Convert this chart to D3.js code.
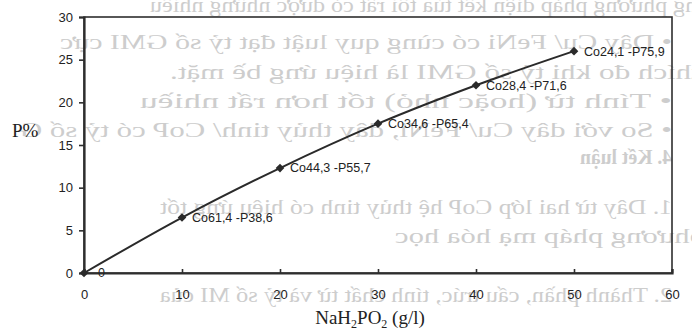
<!DOCTYPE html>
<html>
<head>
<meta charset="utf-8">
<script src="https://cdn.jsdelivr.net/npm/d3@7"></script>
<style>
  body { margin: 0; background: #fff; }
  svg { display: block; }
</style>
</head>
<body>
<svg></svg>
<script>
  // NaH2PO2 concentration (g/l) vs P content (%)
  const naConc = [0, 10, 20, 30, 40, 50];
  const pPercent = [0, 6.5, 12.3, 17.5, 22, 26];
  const pointLabels = ["0", "Co61,4 -P38,6", "Co44,3 -P55,7", "Co34,6 -P65,4", "Co28,4 -P71,6", "Co24,1 -P75,9"];
  const xTicks = [0, 10, 20, 30, 40, 50, 60];
  const yTicks = [0, 5, 10, 15, 20, 25, 30];

  // text showing through (mirrored) from the back of the scanned page
  const ghostLines = [
    "bằng phương pháp điện kết tủa tối rất có được những nhiều",
    "•      Dây Cu/ FeNi có cùng quy luật đạt tỷ số GMI cực",
    "thích đo khi tỷ số GMI là hiệu ứng bề mặt.",
    "•      Tính từ (hoặc nhỏ) tốt hơn rất nhiều",
    "•      So với dây Cu/ FeNi, dây thủy tinh/ CoP có tỷ số G",
    "4. Kết luận",
    "1.      Dây từ hai lớp CoP hệ thủy tinh có hiệu ứng tốt",
    "phương pháp mạ hóa học",
    "2.      Thành phần, cấu trúc, tính chất từ và tỷ số MI của"
  ];
  const ghostRight = [720, 672, 700, 672, 672, 672, 672, 705, 672];
  const ghostLeft = [150, 60, 170, 140, 20, 580, 160, 395, 160];
  const ghostBase = [12, 49, 79, 108, 137, 164, 214, 243, 302];

  const width = 692, height = 333;
  const margin = {top: 17, right: 20, bottom: 60, left: 84};

  const svg = d3.select('svg').attr('width', width).attr('height', height);

  svg.append('g').selectAll('text')
    .data(ghostLines)
    .join('text')
      .attr('transform', (d, i) => `translate(${ghostRight[i]},${ghostBase[i]}) scale(-1,1)`)
      .attr('textLength', (d, i) => ghostRight[i] - ghostLeft[i])
      .attr('lengthAdjust', 'spacingAndGlyphs')
      .attr('font-family', 'Liberation Serif, Times New Roman, serif')
      .attr('font-size', 20)
      .attr('font-weight', (d, i) => i === 5 ? 'bold' : 'normal')
      .attr('fill', '#cdcdcd')
      .text(d => d);

  const x = d3.scaleLinear().domain([0, 60]).range([margin.left, width - margin.right]);
  const y = d3.scaleLinear().domain([0, 30]).range([height - margin.bottom, margin.top]);

  // plot frame
  svg.append('rect')
    .attr('x', x(0))
    .attr('y', y(30))
    .attr('width', x(60) - x(0))
    .attr('height', y(0) - y(30))
    .attr('fill', 'none')
    .attr('stroke', '#2e2e2e')
    .attr('stroke-width', 1.6);

  const yAxis = svg.append('g')
    .attr('transform', `translate(${x(0)},0)`)
    .call(d3.axisLeft(y).tickValues(yTicks).tickSize(5).tickPadding(6));

  const xAxis = svg.append('g')
    .attr('transform', `translate(0,${y(0)})`)
    .call(d3.axisBottom(x).tickValues(xTicks).tickSize(-4).tickPadding(17));

  [xAxis, yAxis].forEach(g => {
    g.select('.domain').attr('stroke', '#2e2e2e').attr('stroke-width', 2.2);
    g.selectAll('.tick line').attr('stroke', '#2e2e2e').attr('stroke-width', 1.6);
    g.selectAll('.tick text')
      .attr('font-family', 'Liberation Sans, Arial, sans-serif')
      .attr('font-size', 13)
      .attr('fill', '#222');
  });

  const points = naConc.map((v, i) => ({x: v, y: pPercent[i], label: pointLabels[i]}));

  const line = d3.line()
    .x(d => x(d.x))
    .y(d => y(d.y))
    .curve(d3.curveMonotoneX);

  svg.append('path')
    .datum(points)
    .attr('d', line)
    .attr('fill', 'none')
    .attr('stroke', '#2a2a2a')
    .attr('stroke-width', 2);

  svg.append('g').selectAll('path')
    .data(points)
    .join('path')
      .attr('transform', d => `translate(${x(d.x)},${y(d.y)})`)
      .attr('d', d3.symbol(d3.symbolDiamond2, 48))
      .attr('fill', '#2a2a2a');

  svg.append('g').selectAll('text')
    .data(points)
    .join('text')
      .attr('x', d => x(d.x) + (d.x === 0 ? 14 : 10))
      .attr('y', d => y(d.y))
      .attr('dy', '0.35em')
      .attr('font-family', 'Liberation Sans, Arial, sans-serif')
      .attr('font-size', 12.5)
      .attr('fill', '#222')
      .text(d => d.label);

  // axis titles
  svg.append('text')
    .attr('x', 12)
    .attr('y', 137)
    .attr('font-family', 'Liberation Serif, Times New Roman, serif')
    .attr('font-size', 19)
    .attr('fill', '#222')
    .text('P%');

  const xTitle = svg.append('text')
    .attr('x', 370)
    .attr('y', 324)
    .attr('text-anchor', 'middle')
    .attr('font-family', 'Liberation Serif, Times New Roman, serif')
    .attr('font-size', 19)
    .attr('fill', '#222');
  xTitle.append('tspan').text('NaH');
  xTitle.append('tspan').attr('font-size', 12).attr('dy', 4).text('2');
  xTitle.append('tspan').attr('dy', -4).text('PO');
  xTitle.append('tspan').attr('font-size', 12).attr('dy', 4).text('2');
  xTitle.append('tspan').attr('dy', -4).text(' (g/l)');
</script>
</body>
</html>
